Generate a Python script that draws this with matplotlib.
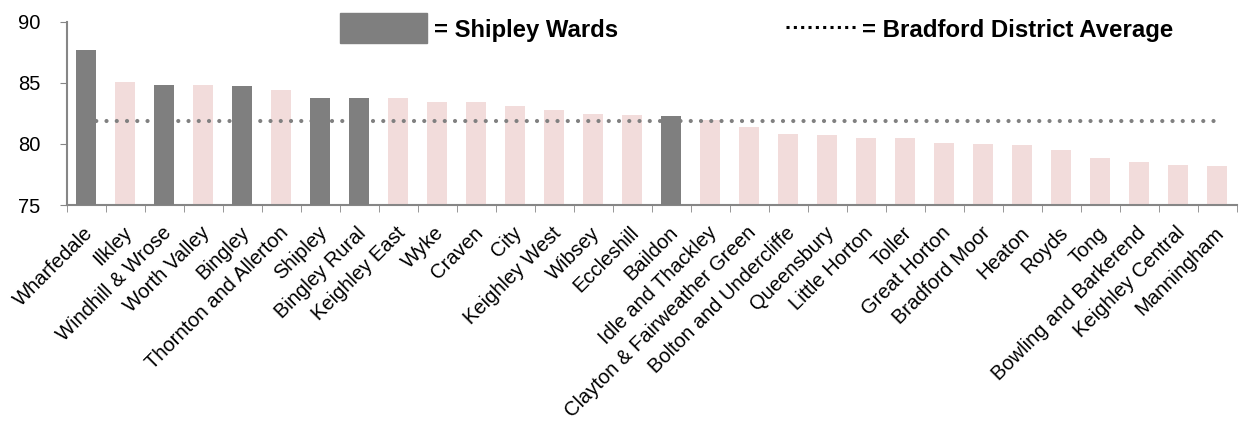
import matplotlib
matplotlib.use("Agg")
import matplotlib.pyplot as plt
import matplotlib.transforms as mtransforms
import numpy as np
from matplotlib.patches import Rectangle
from matplotlib.lines import Line2D

plt.rcParams['font.family'] = ['Liberation Sans', 'DejaVu Sans']

# Ward values
wards = ["Wharfedale", "Ilkley", "Windhill & Wrose", "Worth Valley", "Bingley",
         "Thornton and Allerton", "Shipley", "Bingley Rural", "Keighley East", "Wyke",
         "Craven", "City", "Keighley West", "Wibsey", "Eccleshill", "Baildon",
         "Idle and Thackley", "Clayton & Fairweather Green", "Bolton and Undercliffe",
         "Queensbury", "Little Horton", "Toller", "Great Horton", "Bradford Moor",
         "Heaton", "Royds", "Tong", "Bowling and Barkerend", "Keighley Central",
         "Manningham"]
values = [87.7, 85.1, 84.85, 84.85, 84.76, 84.43, 83.76, 83.76, 83.76, 83.43,
          83.43, 83.07, 82.75, 82.48, 82.4, 82.31, 81.99, 81.36, 80.85, 80.69,
          80.5, 80.5, 80.09, 80.01, 79.9, 79.54, 78.81, 78.56, 78.24, 78.16]
shipley_wards = ["Wharfedale", "Windhill & Wrose", "Bingley", "Shipley",
                 "Bingley Rural", "Baildon"]
district_avg = 81.9
y_ticks = [75, 80, 85, 90]

dark = '#7f7f7f'
pink = '#f2dcdb'
axis_grey = '#868686'

fig = plt.figure(figsize=(12.49, 4.25), dpi=100)
ax = fig.add_axes([0.0534, 0.5176, 0.9366, 0.4314])

x = np.arange(len(wards))
is_shipley = np.array([w in shipley_wards for w in wards])
vals = np.array(values)

ax.bar(x[~is_shipley], vals[~is_shipley], width=0.51, color=pink, zorder=1)
# round dots for the district average
ax.plot(x, [district_avg] * len(x), linestyle=(0, (0.01, 2.45)), color='#808080',
        linewidth=3, zorder=2, dash_capstyle='round')
ax.bar(x[is_shipley], vals[is_shipley], width=0.51, color=dark, zorder=3)

ax.set_ylim(75, 90)
ax.set_xlim(-0.5, len(wards) - 0.5)
ax.set_yticks(y_ticks)
ax.tick_params(axis='y', labelsize=14.5, color=axis_grey, length=5,
               direction='out', pad=14)

# category labels: rotated, right end sitting just under each bar
ax.set_xticks(x)
ax.set_xticklabels(wards, rotation=45, ha='right', va='center',
                   rotation_mode='anchor', fontsize=14.5)
ax.tick_params(axis='x', length=0, pad=18)
shift = mtransforms.ScaledTranslation(4 / 100, 0, fig.dpi_scale_trans)
for lbl in ax.get_xticklabels():
    lbl.set_transform(lbl.get_transform() + shift)
ax.set_xticks(np.arange(-0.5, len(wards)), minor=True)
ax.tick_params(axis='x', which='minor', length=5, color=axis_grey)

for side in ['top', 'right']:
    ax.spines[side].set_visible(False)
for side in ['left', 'bottom']:
    ax.spines[side].set_color(axis_grey)
    ax.spines[side].set_linewidth(1.5)

# Legend keys drawn in figure coordinates
fig.patches.append(Rectangle((340 / 1249, 1 - 43 / 425), 87 / 1249, 30 / 425,
                             transform=fig.transFigure, color=dark))
fig.text(434 / 1249, 1 - 37 / 425, "= Shipley Wards", fontsize=17.2, fontweight='bold',
         va='baseline', ha='left')
fig.lines.append(Line2D([786 / 1249, 856 / 1249], [1 - 27 / 425, 1 - 27 / 425],
                        transform=fig.transFigure, color='black',
                        linestyle=(0, (1, 1.4)), linewidth=2.2))
fig.text(862 / 1249, 1 - 37 / 425, "= Bradford District Average", fontsize=17.3,
         fontweight='bold', va='baseline', ha='left')

fig.savefig("out.png", dpi=100)
plt.close(fig)
